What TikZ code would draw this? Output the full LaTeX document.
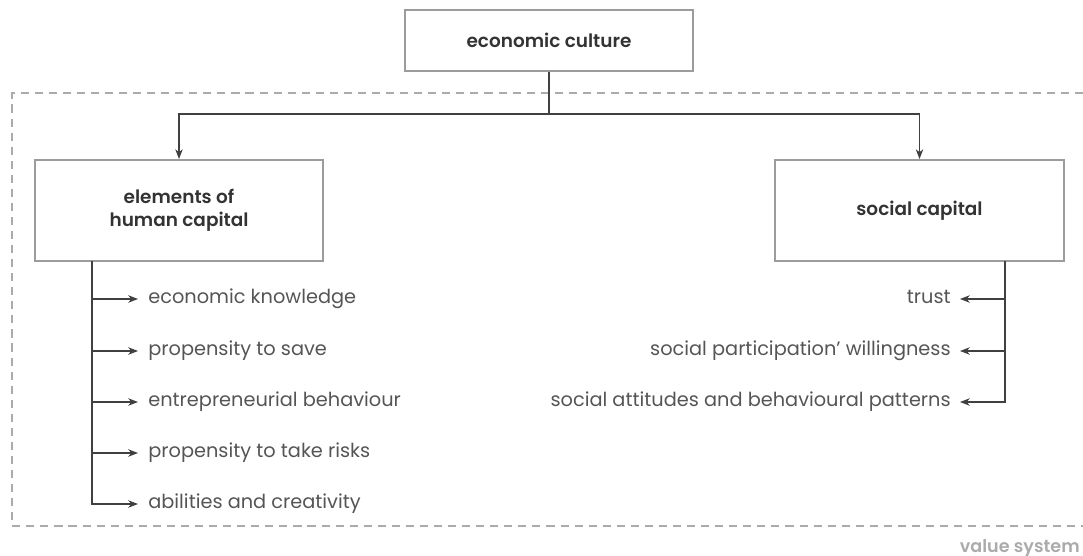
\documentclass[tikz,border=0pt]{standalone}
\usepackage{fontspec}
\setmainfont{Poppins}[BoldFont={Poppins SemiBold}]
\usepackage{tikz}
\usetikzlibrary{arrows.meta,positioning,calc}

\definecolor{boxgray}{HTML}{9C9C9E}
\definecolor{linegray}{HTML}{404040}
\definecolor{textgray}{HTML}{555555}
\definecolor{titlegray}{HTML}{333333}
\definecolor{framegray}{HTML}{ABABAB}

\begin{document}
\begin{tikzpicture}[
    box/.style={draw=boxgray, line width=1.1pt, fill=white, align=center, font=\fontsize{10.5}{13}\selectfont\bfseries, text=titlegray},
    arrow/.style={-{Stealth[length=5.5pt,width=4.2pt,inset=1.6pt]}, line width=0.7pt, draw=linegray},
    itemL/.style={anchor=mid west, inner xsep=0.2cm, inner ysep=0pt, font=\fontsize{11}{13}\selectfont, text=textgray},
    itemR/.style={anchor=mid east, inner xsep=0.18cm, inner ysep=0pt, font=\fontsize{11}{13}\selectfont, text=textgray},
    frame/.style={dashed, dash pattern=on 4.6pt off 3.4pt, line width=0.8pt, draw=framegray}
  ]
    \useasboundingbox (0,0) rectangle (21.66,-11.12);

    % value system frame, open on the right
    \draw[frame] (21.66,-1.86) -- (0.24,-1.86) -- (0.24,-10.52) -- (21.66,-10.52);
    \node[anchor=base east, inner sep=0pt, font=\fontsize{10}{12}\selectfont\bfseries, text=framegray] (vs) at (21.6,-11.04) {value system};

    \node[box, minimum width=5.76cm, minimum height=1.22cm] (culture) at (10.98,-0.81) {economic culture};
    \node[box, minimum width=5.76cm, minimum height=2.02cm] (human) at (3.58,-4.21) {elements of\\human capital};
    \node[box, minimum width=5.78cm, minimum height=2.02cm] (social) at (18.39,-4.21) {social capital};

    \coordinate (split) at (10.98,-2.28);
    \draw[arrow] (culture.south) -- (split) -| (human.north);
    \draw[arrow] (split) -| (social.north);

    % human capital elements
    \node[itemL] (h1) at (2.76,-5.98) {economic knowledge};
    \node[itemL] (h2) at (2.76,-7.02) {propensity to save};
    \node[itemL] (h3) at (2.76,-8.04) {entrepreneurial behaviour};
    \node[itemL] (h4) at (2.76,-9.06) {propensity to take risks};
    \node[itemL] (h5) at (2.76,-10.08) {abilities and creativity};
    \coordinate (hstem) at (1.84,-5.22);
    \foreach \i in {1,...,5}
      \draw[arrow] (hstem) |- (h\i.mid west);

    % social capital elements
    \node[itemR] (s1) at (19.2,-5.98) {trust};
    \node[itemR] (s2) at (19.2,-7.02) {social participation’ willingness};
    \node[itemR] (s3) at (19.2,-8.04) {social attitudes and behavioural patterns};
    \coordinate (sstem) at (20.1,-5.22);
    \foreach \i in {1,...,3}
      \draw[arrow] (sstem) |- (s\i.mid east);
  \end{tikzpicture}
\end{document}
